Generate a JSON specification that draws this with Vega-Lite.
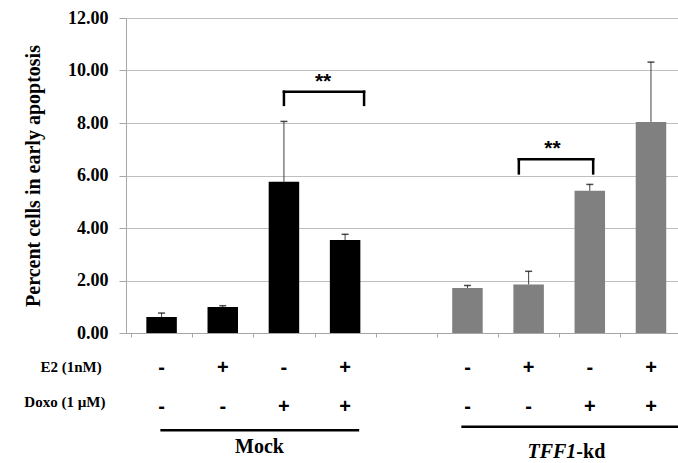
{
  "$schema": "https://vega.github.io/schema/vega-lite/v6.json",
  "width": 552,
  "height": 315,
  "autosize": {"type": "none"},
  "padding": {"left": 126, "top": 18, "right": 0, "bottom": 130},
  "background": "white",
  "config": {"view": {"stroke": null}, "font": "Liberation Serif"},
  "datasets": {
    "bars": [
      {"group": "Mock", "pos": 1, "value": 0.61, "upper": 0.76, "e2": "-", "doxo": "-"},
      {"group": "Mock", "pos": 2, "value": 0.99, "upper": 1.04, "e2": "+", "doxo": "-"},
      {"group": "Mock", "pos": 3, "value": 5.76, "upper": 8.06, "e2": "-", "doxo": "+"},
      {"group": "Mock", "pos": 4, "value": 3.54, "upper": 3.76, "e2": "+", "doxo": "+"},
      {"group": "TFF1-kd", "pos": 6, "value": 1.71, "upper": 1.81, "e2": "-", "doxo": "-"},
      {"group": "TFF1-kd", "pos": 7, "value": 1.85, "upper": 2.35, "e2": "+", "doxo": "-"},
      {"group": "TFF1-kd", "pos": 8, "value": 5.42, "upper": 5.66, "e2": "-", "doxo": "+"},
      {"group": "TFF1-kd", "pos": 9, "value": 8.04, "upper": 10.32, "e2": "+", "doxo": "+"}
    ],
    "brackets": [
      {"x": 3.0, "x2": 3.0, "y": 8.69, "y2": 9.19},
      {"x": 3.0, "x2": 4.31, "y": 9.19, "y2": 9.19},
      {"x": 4.31, "x2": 4.31, "y": 8.69, "y2": 9.19},
      {"x": 6.84, "x2": 6.84, "y": 6.08, "y2": 6.62},
      {"x": 6.84, "x2": 8.055, "y": 6.62, "y2": 6.62},
      {"x": 8.055, "x2": 8.055, "y": 6.08, "y2": 6.62}
    ],
    "stars": [
      {"x": 3.64, "y": 9.55, "label": "**"},
      {"x": 7.39, "y": 7.0, "label": "**"}
    ],
    "rowlabels": [
      {"label": "E2 (1nM)", "x": -0.48, "y": -1.28},
      {"label": "Doxo (1 µM)", "x": -0.58, "y": -2.62}
    ],
    "grouplines": [
      {"group": "Mock", "x": 0.98, "x2": 4.23, "y": -3.7},
      {"group": "TFF1-kd", "x": 5.9, "x2": 9.6, "y": -3.57}
    ],
    "grouplabels": [
      {"label": "Mock", "x": 2.6, "y": -4.33}
    ],
    "tfflabel": [
      {"gene": "TFF1", "suffix": "-kd", "x": 7.78, "y": -4.52}
    ]
  },
  "layer": [
    {
      "data": {"name": "bars"},
      "mark": {"type": "bar", "orient": "vertical", "size": 30.5},
      "encoding": {
        "x": {
          "field": "pos", "type": "quantitative",
          "scale": {"domain": [0.5, 9.36], "nice": false, "zero": false},
          "axis": {
            "values": [0.5, 1.5, 2.5, 3.5, 4.5, 5.5, 6.5, 7.5, 8.5],
            "labels": false, "title": null, "grid": false,
            "tickSize": 4, "domainColor": "#a6a6a6", "tickColor": "#a6a6a6"
          }
        },
        "y": {
          "field": "value", "type": "quantitative",
          "scale": {"domain": [0, 12], "nice": false},
          "axis": {
            "values": [0, 2, 4, 6, 8, 10, 12], "format": ".2f",
            "title": "Percent cells in early apoptosis",
            "grid": true, "gridColor": "#bfbfbf", "gridWidth": 1,
            "domainColor": "#a6a6a6", "tickColor": "#a6a6a6", "tickSize": 7,
            "labelPadding": 11, "labelFont": "Liberation Serif", "labelFontWeight": "bold",
            "labelFontSize": 18, "labelColor": "black",
            "titleFont": "Liberation Serif", "titleFontWeight": "bold", "titleFontSize": 20,
            "titleColor": "black", "titleAngle": -90, "titleX": -93, "titleY": 157.5,
            "titleAlign": "center", "titleBaseline": "middle"
          }
        },
        "color": {
          "field": "group", "type": "nominal",
          "scale": {"domain": ["Mock", "TFF1-kd"], "range": ["#000000", "#808080"]},
          "legend": null
        }
      }
    },
    {
      "data": {"name": "bars"},
      "mark": {"type": "rule", "color": "#404040", "strokeWidth": 1},
      "encoding": {
        "x": {"field": "pos", "type": "quantitative"},
        "y": {"field": "value", "type": "quantitative"},
        "y2": {"field": "upper"}
      }
    },
    {
      "data": {"name": "bars"},
      "mark": {"type": "tick", "orient": "horizontal", "size": 7, "thickness": 1.5, "color": "black"},
      "encoding": {
        "x": {"field": "pos", "type": "quantitative"},
        "y": {"field": "upper", "type": "quantitative"}
      }
    },
    {
      "data": {"name": "brackets"},
      "mark": {"type": "rule", "color": "black", "strokeWidth": 2.5, "strokeCap": "square"},
      "encoding": {
        "x": {"field": "x", "type": "quantitative"},
        "x2": {"field": "x2"},
        "y": {"field": "y", "type": "quantitative"},
        "y2": {"field": "y2"}
      }
    },
    {
      "data": {"name": "stars"},
      "mark": {"type": "text", "font": "Liberation Sans", "fontWeight": "bold", "fontSize": 21, "align": "center", "baseline": "middle", "color": "black", "letterSpacing": 2},
      "encoding": {
        "x": {"field": "x", "type": "quantitative"},
        "y": {"field": "y", "type": "quantitative"},
        "text": {"field": "label"}
      }
    },
    {
      "data": {"name": "bars"},
      "mark": {"type": "text", "font": "Liberation Sans", "fontWeight": "bold", "fontSize": 20, "align": "center", "baseline": "middle", "color": "black"},
      "encoding": {
        "x": {"field": "pos", "type": "quantitative"},
        "y": {"datum": -1.34},
        "text": {"field": "e2"}
      }
    },
    {
      "data": {"name": "bars"},
      "mark": {"type": "text", "font": "Liberation Sans", "fontWeight": "bold", "fontSize": 20, "align": "center", "baseline": "middle", "color": "black"},
      "encoding": {
        "x": {"field": "pos", "type": "quantitative"},
        "y": {"datum": -2.81},
        "text": {"field": "doxo"}
      }
    },
    {
      "data": {"name": "rowlabels"},
      "mark": {"type": "text", "font": "Liberation Serif", "fontWeight": "bold", "fontSize": 15, "align": "center", "baseline": "middle", "color": "black"},
      "encoding": {
        "x": {"field": "x", "type": "quantitative"},
        "y": {"field": "y", "type": "quantitative"},
        "text": {"field": "label"}
      }
    },
    {
      "data": {"name": "grouplines"},
      "mark": {"type": "rule", "color": "black", "strokeWidth": 2.5},
      "encoding": {
        "x": {"field": "x", "type": "quantitative"},
        "x2": {"field": "x2"},
        "y": {"field": "y", "type": "quantitative"}
      }
    },
    {
      "data": {"name": "grouplabels"},
      "mark": {"type": "text", "font": "Liberation Serif", "fontWeight": "bold", "fontSize": 20, "align": "center", "baseline": "middle", "color": "black"},
      "encoding": {
        "x": {"field": "x", "type": "quantitative"},
        "y": {"field": "y", "type": "quantitative"},
        "text": {"field": "label"}
      }
    },
    {
      "data": {"name": "tfflabel"},
      "mark": {"type": "text", "font": "Liberation Serif", "fontWeight": "bold", "fontStyle": "italic", "fontSize": 20, "align": "right", "baseline": "middle", "color": "black"},
      "encoding": {
        "x": {"field": "x", "type": "quantitative"},
        "y": {"field": "y", "type": "quantitative"},
        "text": {"field": "gene"}
      }
    },
    {
      "data": {"name": "tfflabel"},
      "mark": {"type": "text", "font": "Liberation Serif", "fontWeight": "bold", "fontSize": 20, "align": "left", "baseline": "middle", "color": "black"},
      "encoding": {
        "x": {"field": "x", "type": "quantitative"},
        "y": {"field": "y", "type": "quantitative"},
        "text": {"field": "suffix"}
      }
    }
  ]
}
